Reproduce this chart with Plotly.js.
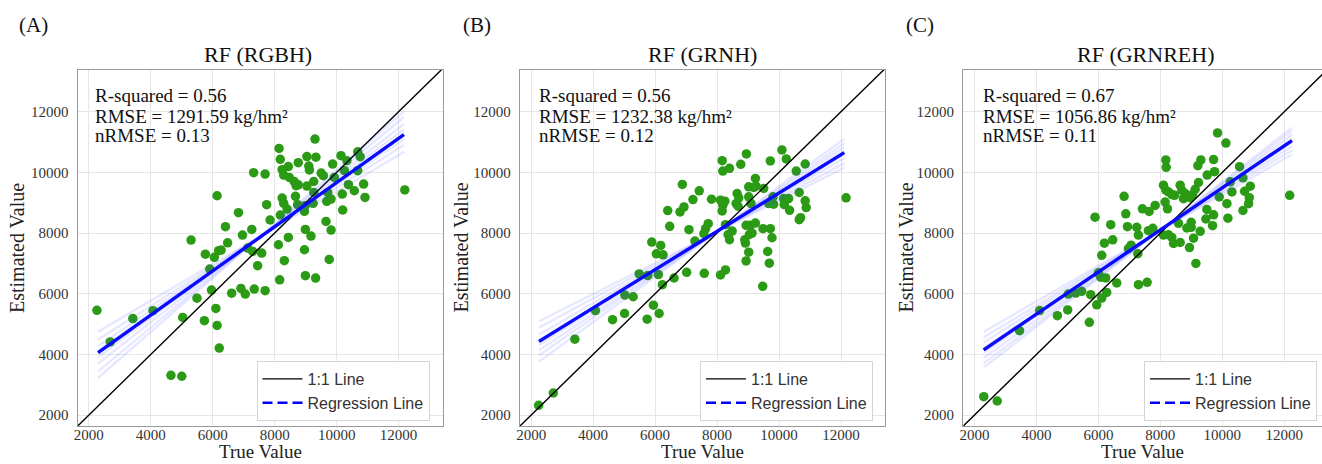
<!DOCTYPE html>
<html>
<head>
<meta charset="utf-8">
<script src="https://cdn.plot.ly/plotly-3.0.1.min.js"></script>
<style>html,body{margin:0;padding:0;background:#fff;}#chart{width:1322px;height:464px;}</style>
</head>
<body>
<div id="chart"></div>
<script>
// ---------- data ----------
const panelLabels = ['(A)', '(B)', '(C)'];
const panelTitles = ['RF (RGBH)', 'RF (GRNH)', 'RF (GRNREH)'];
const r2Values = ['0.56', '0.56', '0.67'];
const rmseValues = ['1291.59', '1232.38', '1056.86'];
const nrmseValues = ['0.13', '0.12', '0.11'];
const tickVals = [2000, 4000, 6000, 8000, 10000, 12000];
const legendNames = ['1:1 Line', 'Regression Line'];

// Panel A (RGBH)
const aTrue = [9300,8140,8180,9040,9330,8760,8440,8240,9100,9120,8290,8470,8630,8760,8690,9040,9260,9500,9570,9925,9870,10140,10330,10680,10760,10250,10680,10380,10870,10570,10915,10180,10195,12200,7320,7690,6140,7740,6830,8240,8290,8670,8740,8960,8980,9260,9240,9710,9680,9820,8400,8180,7850,6410,7260,6960,6480,5300,8440,8990,9170,9655,9820,8120,8960,8310,9760,7130,7290,7580,6270,6190,5760,6050,5900,7450,8160,8990,9320,6910,7050,7340,7690,6610,5960,5490,6100,6140,5730,5030,2260,2690,3420,4070,4650,5000,6210];
const aEst  = [11100,10790,10430,10520,10500,10320,10190,10090,10210,10080,9910,9835,9700,9590,9560,9550,9700,9980,9890,9835,10275,10550,10385,10680,10515,10055,10055,9595,9615,9395,9175,9285,8760,9420,9990,9945,9230,8935,8670,9155,8980,9210,8935,8715,8900,9340,8980,9340,9045,9120,8790,8595,8430,8210,8120,7935,7680,7770,7855,8120,7900,8385,8100,7615,7450,7090,7130,7505,7395,7340,7440,7420,7305,7200,6815,6925,6460,6595,6515,6175,5990,6155,6100,6020,6120,5855,5515,4955,5110,5220,5455,4410,5180,5440,3310,3280,4210];
const aRegX = [2300, 12170];
const aRegY = [4060, 11245];
const aBandX = [2300, 12170];
const aBandStart = [4750, 4490, 4280, 4120, 3910, 3700, 3440, 3230];
const aBandEnd   = [10672, 10903, 11088, 11226, 11411, 11596, 11827, 12012];

// Panel B (GRNH)
const bTrue = [10094,10234,8947,9719,8165,8401,8186,8765,10845,10555,9237,9022,9183,9258,9505,6879,7425,7222,7822,8111,8251,8186,8165,8647,8701,8615,8680,9022,9097,9805,9666,9826,10148,10309,10169,10652,10845,10877,10341,10695,10652,12163,6407,6804,6932,6472,7715,7629,7575,7093,8272,8487,8358,8401,8937,9076,9237,9130,9044,9483,9719,9773,8894,8915,9022,9634,8937,9687,7286,5893,6182,6043,6257,7018,7586,8111,8272,9473,6611,6236,6107,5764,5486,5025,5293,5946,6129,5014,5743,2240,2715,3410,4073,4628];
const bEst  = [10740,10442,10608,10376,10387,10133,10044,10265,10276,10044,9801,9525,9503,9547,9470,9602,9392,9105,9116,9083,9050,8917,8729,9304,9160,8972,8884,9193,8972,9193,8972,8950,9138,9138,8939,9337,9061,8840,8751,8508,8442,9160,8740,8696,8862,8221,8309,8144,7978,8110,8276,8066,7945,7779,8254,8254,8331,8000,7956,8144,8144,7845,7779,7669,7370,7392,7083,7006,7735,7702,7591,7315,7282,6707,6674,6619,6785,6243,6519,6298,6630,6597,6652,5956,5901,5624,5348,5348,5160,2321,2728,4503,5444,5146];
const bRegX = [2256, 12106];
const bRegY = [4430, 10650];
const bBandX = [2256, 12106];
const bBandStart = [5093, 4886, 4657, 4485, 4313, 4141, 3969, 3768];
const bBandEnd   = [10156, 10304, 10468, 10592, 10715, 10839, 10962, 11106];

// Panel C (GRNREH)
const cTrue = [9847,10116,8177,8188,9308,9211,9718,9750,9513,10558,10666,10256,10903,10720,10871,10849,10310,10149,10666,10181,12175,9233,9125,9039,8963,8802,8640,8694,8748,8371,8457,8101,8177,8263,8155,8231,9901,9502,9718,9470,9685,6830,7422,7638,7832,5892,6884,6399,6938,7239,7293,7616,7756,8586,8996,8996,8856,9287,8101,8263,8371,8425,8640,9071,8941,9147,6194,6463,7056,6970,7272,6108,6000,6075,6237,6593,7293,7573,6269,6108,5946,5752,5461,5267,5030,5009,5709,2301,2735,3456,4104,4676];
const cEst  = [11300,10967,10411,10167,10411,10222,10422,10022,9911,10189,9822,9689,9544,9378,9167,8967,9356,8967,8744,8489,9244,9667,9444,9267,9167,9300,9578,9411,9133,9267,9244,9578,9411,9356,9022,8800,9189,8778,8600,8467,8244,9211,8800,8711,8911,8522,8633,8278,8211,8189,7933,8078,8156,8322,8356,8189,8167,8056,7933,7944,7856,7656,7689,7833,7522,7000,7667,7778,7600,7489,7322,7267,6689,6544,6522,6356,6300,6378,6044,5856,5633,5967,6078,6022,5989,5467,5056,2606,2464,4781,5444,5278];
const cRegX = [2300, 12250];
const cRegY = [4150, 11050];
const cBandX = [2300, 12250];
const cBandStart = [4748, 4561, 4390, 4220, 4049, 3879, 3708, 3566];
const cBandEnd   = [10589, 10730, 10858, 10986, 11114, 11242, 11370, 11476];

const identityLine = [1000, 14000];

// ---------- layout geometry (pixels of the 1322x464 page) ----------
const W = 1322, H = 464;
const axLeft  = [77.7, 520, 963.3];
const axRight = [442.6, 885, 1322];
const axTop = 70, axBottom = 426;
const xRanges = [[1640, 13420], [1640, 13420], [1640, 13218]];
const yRange = [1640, 13375];

const panels = [
  {t: aTrue, e: aEst, rx: aRegX, ry: aRegY, bx: aBandX, b0: aBandStart, b1: aBandEnd},
  {t: bTrue, e: bEst, rx: bRegX, ry: bRegY, bx: bBandX, b0: bBandStart, b1: bBandEnd},
  {t: cTrue, e: cEst, rx: cRegX, ry: cRegY, bx: cBandX, b0: cBandStart, b1: cBandEnd}
];

const serif = 'Liberation Serif, Times New Roman, serif';
const sans = 'Liberation Sans, Arial, sans-serif';

const traces = [];
const layout = {
  width: W, height: H,
  margin: {l: 0, r: 0, t: 0, b: 0},
  paper_bgcolor: '#ffffff', plot_bgcolor: '#ffffff',
  showlegend: true,
  annotations: []
};

const legendLeft = [256.5, 700, 1144];
const legendBottom = 421;

panels.forEach((p, i) => {
  const n = i === 0 ? '' : String(i + 1);
  const xa = 'x' + n, ya = 'y' + n;
  const lg = 'legend' + n;

  traces.push({
    type: 'scatter', mode: 'markers', x: p.t, y: p.e, xaxis: xa, yaxis: ya,
    marker: {color: '#2b9a15', size: 9.5}, showlegend: false, hoverinfo: 'skip'
  });
  traces.push({
    type: 'scatter', mode: 'lines', x: identityLine, y: identityLine, xaxis: xa, yaxis: ya,
    line: {color: '#000000', width: 1.4}, name: legendNames[0], legend: lg, showlegend: true
  });
  p.b0.forEach((v, k) => {
    traces.push({
      type: 'scatter', mode: 'lines', x: p.bx, y: [v, p.b1[k]], xaxis: xa, yaxis: ya,
      line: {color: 'rgba(70,80,255,0.13)', width: 2.4}, showlegend: false, hoverinfo: 'skip'
    });
  });
  traces.push({
    type: 'scatter', mode: 'lines', x: p.rx, y: p.ry, xaxis: xa, yaxis: ya,
    line: {color: '#0000ff', width: 2.5, dash: '10px,5px'}, name: legendNames[1], legend: lg, showlegend: true
  });
  traces.push({
    type: 'scatter', mode: 'lines', x: p.rx, y: p.ry, xaxis: xa, yaxis: ya,
    line: {color: '#0a0aff', width: 3.3}, showlegend: false, hoverinfo: 'skip'
  });

  const axCommon = {
    showline: true, mirror: true, linecolor: '#9a9a9a', linewidth: 1.2,
    showgrid: true, gridcolor: '#e6e6e6', gridwidth: 1, zeroline: false,
    tickvals: tickVals, ticktext: tickVals.map(String),
    tickfont: {family: serif, size: 15, color: '#333333'},
    fixedrange: true
  };
  layout['xaxis' + n] = Object.assign({}, axCommon, {
    domain: [axLeft[i] / W, axRight[i] / W], anchor: ya, range: xRanges[i],
    ticks: 'outside', ticklen: 2, tickcolor: 'rgba(0,0,0,0)', ticklabelstandoff: -7
  });
  layout['yaxis' + n] = Object.assign({}, axCommon, {
    domain: [1 - axBottom / H, 1 - axTop / H], anchor: xa, range: yRange,
    ticks: 'outside', ticklen: 5, tickcolor: 'rgba(0,0,0,0)'
  });
  layout[lg] = {
    x: legendLeft[i] / W, y: 1 - legendBottom / H, xanchor: 'left', yanchor: 'bottom',
    xref: 'paper', yref: 'paper',
    bgcolor: '#ffffff', bordercolor: '#d4d4d4', borderwidth: 1,
    font: {family: sans, size: 16, color: '#333333'},
    itemwidth: 40, tracegroupgap: 0
  };

  const cx = (axLeft[i] + axRight[i]) / 2;
  const ann = layout.annotations;
  ann.push({text: panelLabels[i], xref: 'paper', yref: 'paper', x: [17, 460.5, 904][i] / W, y: 1 - 25 / H,
    xanchor: 'left', yanchor: 'middle', showarrow: false, font: {family: serif, size: 21, color: '#111'}});
  ann.push({text: panelTitles[i], xref: 'paper', yref: 'paper', x: [258.3, 702, 1145.8][i] / W, y: 1 - 55 / H,
    xanchor: 'center', yanchor: 'middle', showarrow: false, font: {family: serif, size: 22, color: '#111'}});
  ann.push({text: 'True Value', xref: 'paper', yref: 'paper', x: cx / W, y: 0,
    xanchor: 'center', yanchor: 'bottom', showarrow: false, font: {family: serif, size: 19, color: '#222'}});
  ann.push({text: 'Estimated Value', xref: 'paper', yref: 'paper', x: [17, 460.5, 905.5][i] / W, y: 1 - 248 / H,
    xanchor: 'center', yanchor: 'middle', textangle: -90, showarrow: false, font: {family: serif, size: 20, color: '#222'}});
  const lines = ['R-squared = ' + r2Values[i], 'RMSE = ' + rmseValues[i] + ' kg/hm²', 'nRMSE = ' + nrmseValues[i]];
  const ys = [96, 116, 135];
  lines.forEach((t, k) => {
    ann.push({text: t, xref: 'paper', yref: 'paper', x: [93.3, 536.7, 981][i] / W, y: 1 - ys[k] / H,
      xanchor: 'left', yanchor: 'middle', showarrow: false, font: {family: serif, size: 19, color: '#111'}});
  });
});

Plotly.newPlot('chart', traces, layout, {displayModeBar: false, staticPlot: true});
</script>
</body>
</html>
